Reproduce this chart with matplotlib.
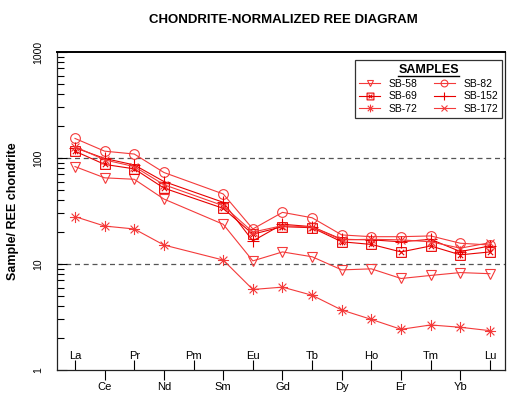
import numpy as np
import matplotlib
matplotlib.use("Agg")
import matplotlib.pyplot as plt
from matplotlib.path import Path
from matplotlib.lines import Line2D

plt.rcParams['font.family'] = ['Liberation Sans', 'DejaVu Sans']

elements = ['La', 'Ce', 'Pr', 'Nd', 'Pm', 'Sm', 'Eu', 'Gd', 'Tb', 'Dy', 'Ho', 'Er', 'Tm', 'Yb', 'Lu']
nan = np.nan
sb58 = [83, 65, 63, 41, nan, 23.7, 10.7, 13.0, 11.7, 8.8, 9.0, 7.3, 7.8, 8.3, 8.1]
sb69 = [116, 87, 79, 52, nan, 33.5, 19.1, 22.5, 22.0, 16.2, 15.3, 13.0, 14.8, 12.2, 13.0]
sb72 = [28, 22.8, 21.4, 15.1, nan, 10.9, 5.75, 6.05, 5.07, 3.68, 3.0, 2.42, 2.66, 2.53, 2.35]
sb82 = [153, 116, 109, 73, nan, 45.8, 21.4, 30.7, 27.3, 18.8, 18.1, 18.1, 18.4, 15.7, 15.1]
sb152 = [125, 99, 86, 60, nan, 38.2, 16.5, 23.7, 22.5, 17.1, 16.9, 16.2, 17.1, 13.1, 14.8]
sb172 = [128, 96, 83, 56, nan, 35.5, 20.0, 23.0, 22.3, 16.9, 17.1, 16.9, 16.2, 14.1, 15.9]
y_ticks = [1, 10, 100, 1000]
y_ticklabels = ['1', '10', '100', '1000']

# custom markers
sq_x = Path([(-1, -1), (1, -1), (1, 1), (-1, 1), (-1, -1),
             (-0.55, -0.55), (0.55, 0.55), (-0.55, 0.55), (0.55, -0.55)],
            [Path.MOVETO, Path.LINETO, Path.LINETO, Path.LINETO, Path.CLOSEPOLY,
             Path.MOVETO, Path.LINETO, Path.MOVETO, Path.LINETO])
aster = Path([(-1, 0), (1, 0), (0, -1), (0, 1), (-0.7, -0.7), (0.7, 0.7), (-0.7, 0.7), (0.7, -0.7)],
             [Path.MOVETO, Path.LINETO, Path.MOVETO, Path.LINETO,
              Path.MOVETO, Path.LINETO, Path.MOVETO, Path.LINETO])

light = '#f43a3a'
strong = '#e80000'

series = [
    ('SB-58', sb58, 'v', light, 6.5),
    ('SB-69', sb69, sq_x, strong, 7),
    ('SB-72', sb72, aster, light, 8),
    ('SB-82', sb82, 'o', light, 7),
    ('SB-152', sb152, '+', strong, 9),
    ('SB-172', sb172, 'x', light, 6),
]

fig = plt.figure(figsize=(5.12, 3.94), dpi=100)
W, H = 512, 394
ax = fig.add_axes([57 / W, 1 - 370 / H, (505 - 57) / W, (370 - 52) / H])

x = np.arange(len(elements))
handles = []
for name, vals, mk, col, ms in series:
    v = np.array(vals, dtype=float)
    m = ~np.isnan(v)
    h, = ax.plot(x[m], v[m], marker=mk, color=col, lw=0.8, ms=ms,
                 markerfacecolor='none', markeredgecolor=col, markeredgewidth=0.8,
                 label=name)
    handles.append(h)

ax.set_yscale('log')
ax.set_ylim(1, 1000)
ax.set_xlim(-0.607, 14.507)

for yv in (10, 100):
    ax.axhline(yv, color='#555555', lw=0.9, ls=(0, (4, 3)), zorder=0)

ax.set_yticks(y_ticks)
ax.set_yticklabels(y_ticklabels, rotation=90, va='center', fontsize=7.5)
ax.tick_params(axis='y', which='major', direction='in', length=7, width=0.8, pad=10)
ax.tick_params(axis='y', which='minor', direction='in', length=5, width=0.8)
ax.yaxis.set_minor_formatter(matplotlib.ticker.NullFormatter())

major_idx = list(range(1, 15, 2))
minor_idx = list(range(0, 15, 2))
ax.set_xticks(major_idx)
ax.set_xticklabels([elements[i] for i in major_idx], fontsize=8)
ax.set_xticks(minor_idx, minor=True)
ax.set_xticklabels([elements[i] for i in minor_idx], minor=True, fontsize=8)
ax.tick_params(axis='x', which='major', direction='out', length=7, width=0.8, pad=1.5)
ax.tick_params(axis='x', which='minor', direction='in', length=7, width=0.8, pad=-14)

for s in ax.spines.values():
    s.set_linewidth(0.9)
    s.set_color('#222222')
ax.spines['top'].set_linewidth(1.4)
ax.spines['top'].set_color('black')

ax.set_ylabel('Sample/ REE chondrite', fontsize=9, fontweight='bold')
ax.yaxis.set_label_coords(-(57 - 19) / 448, 0.5)

fig.text(283 / W, 1 - 20 / H, 'CHONDRITE-NORMALIZED REE DIAGRAM', fontsize=9.5,
         fontweight='bold', ha='center', va='center')

leg = ax.legend(handles=handles, ncol=2, loc='upper right',
                bbox_to_anchor=(1 - 3 / 448, 1 - 8 / 318), borderaxespad=0,
                fontsize=7.5, title='SAMPLES', title_fontproperties={'weight': 'bold', 'size': 9},
                frameon=True, fancybox=False, edgecolor='black', handlelength=2.0,
                markerscale=0.7, columnspacing=1.6, labelspacing=0.25,
                handletextpad=0.8, borderpad=0.4)
leg.get_frame().set_linewidth(0.9)

fig.canvas.draw()
r = fig.canvas.get_renderer()
bb = leg.get_title().get_window_extent(r)
fig.add_artist(Line2D([bb.x0 / W, bb.x1 / W], [(bb.y0 + 0.5) / H, (bb.y0 + 0.5) / H],
                      transform=fig.transFigure, color='black', lw=1.0))

fig.savefig('out.png', dpi=100)
